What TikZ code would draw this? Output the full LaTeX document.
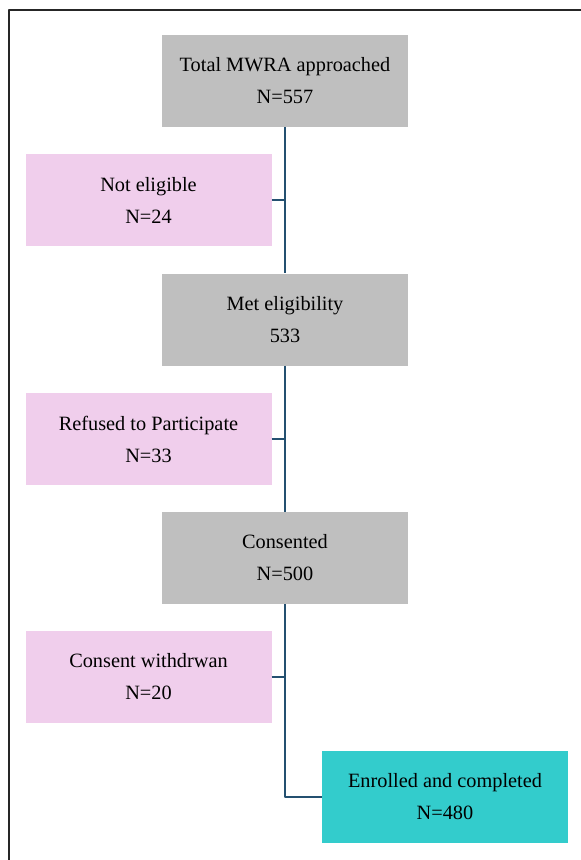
\documentclass[tikz,border=0pt]{standalone}
\usepackage{fontspec}
\setmainfont{Liberation Serif}
\definecolor{boxgray}{RGB}{191,191,191}
\definecolor{boxpink}{RGB}{240,206,236}
\definecolor{boxteal}{RGB}{51,204,204}
\definecolor{linkblue}{RGB}{36,80,112}
\begin{document}
\begin{tikzpicture}[x=1pt, y=-1pt, line join=round,
	font=\fontsize{20.3}{32}\selectfont,
	box/.style={minimum width=246pt, minimum height=92pt, align=center, inner sep=0pt},
	main/.style={box, fill=boxgray},
	excl/.style={box, fill=boxpink},
	final/.style={box, fill=boxteal},
	link/.style={draw=linkblue, line width=2pt}]
	\useasboundingbox (0,0) rectangle (581,860);
	% outer frame
	\draw[line width=1.8pt, black!85] (581,10) -- (9,10) -- (9,860);
	
	\node[main] (tot) at (285,81) {Total MWRA approached\\N=557};
	\node[excl] (ne) at (148.5,200) {Not eligible\\N=24};
	\node[main] (met) at (285,319.5) {Met eligibility\\533};
	\node[excl] (ref) at (148.5,439) {Refused to Participate\\N=33};
	\node[main] (con) at (285,558) {Consented\\N=500};
	\node[excl] (wd) at (148.5,677) {Consent withdrwan\\N=20};
	\node[final] (enr) at (445,797) {Enrolled and completed\\N=480};
	
	\draw[link] (tot.south) -- (met.north);
	\draw[link] (met.south) -- (con.north);
	\draw[link] (con.south) |- (enr.west);
	\draw[link] (ne.east) -- (ne.east -| tot.south);
	\draw[link] (ref.east) -- (ref.east -| met.south);
	\draw[link] (wd.east) -- (wd.east -| con.south);
	
\end{tikzpicture}
\end{document}
